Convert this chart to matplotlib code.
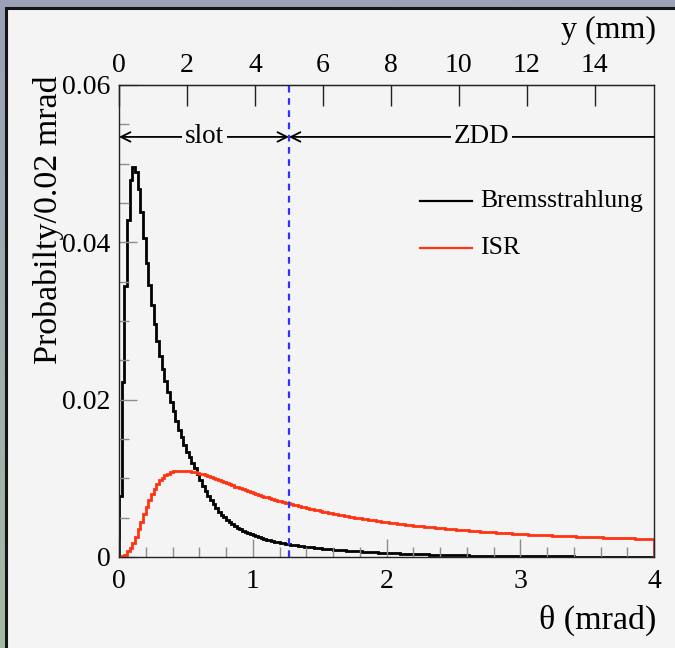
import numpy as np
import matplotlib.pyplot as plt
from matplotlib.patches import Rectangle
from matplotlib.lines import Line2D

plt.rcParams['font.family'] = ['Liberation Serif', 'DejaVu Serif']

# histogram binning: 200 bins of 0.02 mrad from 0 to 4 mrad
theta_edges = np.linspace(0.0, 4.0, 201)

brems = [
    0.0077, 0.0223, 0.0344, 0.0428, 0.0479, 0.0496, 0.0490, 0.0468, 0.0438, 0.0405,
    0.0374, 0.0346, 0.0320, 0.0296, 0.0275, 0.0256, 0.0239, 0.0224, 0.0210, 0.0197,
    0.0185, 0.0173, 0.0162, 0.0152, 0.0142, 0.0134, 0.0127, 0.0120, 0.0113, 0.0106,
    0.00980, 0.00905, 0.00840, 0.00780, 0.00723, 0.00670, 0.00620, 0.00578, 0.00540, 0.00505,
    0.00472, 0.00443, 0.00416, 0.00392, 0.00370, 0.00352, 0.00335, 0.00319, 0.00304, 0.00290,
    0.00277, 0.00265, 0.00253, 0.00242, 0.00232, 0.00222, 0.00213, 0.00204, 0.00196, 0.00189,
    0.00182, 0.00175, 0.00169, 0.00163, 0.00157, 0.00152, 0.00147, 0.00142, 0.00137, 0.00133,
    0.00129, 0.00125, 0.00121, 0.00117, 0.00114, 0.00110, 0.00107, 0.00104, 0.00101, 0.00098,
    0.00095, 0.00092, 0.00089, 0.00086, 0.00083, 0.00080, 0.00078, 0.00076, 0.00074, 0.00072,
    0.00070, 0.00068, 0.00066, 0.00064, 0.00062, 0.00060, 0.00058, 0.00056, 0.00055, 0.00053,
    0.00051, 0.00050, 0.00048, 0.00047, 0.00045, 0.00044, 0.00043, 0.00041, 0.00040, 0.00039,
    0.00037, 0.00036, 0.00035, 0.00034, 0.00033, 0.00032, 0.00031, 0.00030, 0.00029, 0.00028,
    0.00027, 0.00026, 0.00025, 0.00025, 0.00024, 0.00023, 0.00022, 0.00022, 0.00021, 0.00020,
    0.00020, 0.00019, 0.00018, 0.00018, 0.00017, 0.00017, 0.00016, 0.00016, 0.00015, 0.00015,
    0.00014, 0.00014, 0.00013, 0.00013, 0.00013, 0.00012, 0.00012, 0.00012, 0.00011, 0.00011,
    0.00011, 0.00010, 0.00010, 0.00010, 0.00010, 0.00009, 0.00009, 0.00009, 0.00009, 0.00008,
    0.00008, 0.00008, 0.00008, 0.00008, 0.00007, 0.00007, 0.00007, 0.00007, 0.00007, 0.00007,
    0.00006, 0.00006, 0.00006, 0.00006, 0.00006, 0.00006, 0.00006, 0.00006, 0.00006, 0.00006,
    0.00005, 0.00005, 0.00005, 0.00005, 0.00005, 0.00005, 0.00005, 0.00005, 0.00005, 0.00005,
    0.00004, 0.00004, 0.00004, 0.00004, 0.00004, 0.00004, 0.00004, 0.00004, 0.00004, 0.00004,
]

isr = [
    0.00000, 0.00010, 0.00030, 0.00070, 0.00120, 0.00180, 0.00260, 0.00350, 0.00450, 0.00550,
    0.00640, 0.00720, 0.00800, 0.00870, 0.00930, 0.00975, 0.01010, 0.01038, 0.01058, 0.01075,
    0.01088, 0.01095, 0.01098, 0.01099, 0.01098, 0.01095, 0.01090, 0.01083, 0.01075, 0.01068,
    0.01060, 0.01049, 0.01037, 0.01025, 0.01013, 0.01000, 0.00987, 0.00974, 0.00961, 0.00948,
    0.00935, 0.00922, 0.00909, 0.00896, 0.00884, 0.00872, 0.00860, 0.00848, 0.00836, 0.00824,
    0.00813, 0.00802, 0.00791, 0.00780, 0.00769, 0.00758, 0.00748, 0.00738, 0.00728, 0.00718,
    0.00708, 0.00699, 0.00690, 0.00681, 0.00672, 0.00664, 0.00656, 0.00648, 0.00640, 0.00632,
    0.00624, 0.00616, 0.00608, 0.00600, 0.00592, 0.00585, 0.00578, 0.00571, 0.00564, 0.00557,
    0.00550, 0.00543, 0.00537, 0.00531, 0.00525, 0.00519, 0.00513, 0.00507, 0.00501, 0.00495,
    0.00490, 0.00485, 0.00480, 0.00475, 0.00470, 0.00465, 0.00460, 0.00455, 0.00450, 0.00445,
    0.00440, 0.00436, 0.00432, 0.00428, 0.00424, 0.00420, 0.00416, 0.00412, 0.00408, 0.00404,
    0.00400, 0.00396, 0.00392, 0.00388, 0.00385, 0.00382, 0.00379, 0.00376, 0.00373, 0.00370,
    0.00367, 0.00364, 0.00361, 0.00358, 0.00355, 0.00352, 0.00349, 0.00346, 0.00343, 0.00340,
    0.00337, 0.00334, 0.00331, 0.00328, 0.00326, 0.00323, 0.00321, 0.00318, 0.00316, 0.00314,
    0.00312, 0.00310, 0.00308, 0.00306, 0.00304, 0.00302, 0.00300, 0.00298, 0.00296, 0.00294,
    0.00292, 0.00290, 0.00288, 0.00286, 0.00285, 0.00283, 0.00281, 0.00280, 0.00278, 0.00277,
    0.00275, 0.00274, 0.00272, 0.00271, 0.00269, 0.00268, 0.00266, 0.00265, 0.00264, 0.00262,
    0.00261, 0.00260, 0.00258, 0.00257, 0.00256, 0.00255, 0.00253, 0.00252, 0.00251, 0.00250,
    0.00249, 0.00247, 0.00246, 0.00245, 0.00244, 0.00243, 0.00242, 0.00241, 0.00240, 0.00239,
    0.00238, 0.00237, 0.00236, 0.00235, 0.00234, 0.00233, 0.00232, 0.00231, 0.00230, 0.00229,
]

mm_per_mrad = 3.935      # top axis conversion theta -> y
slot_edge_mm = 5.0       # end of the slot
labels = ["Bremsstrahlung", "ISR"]
colors = ["black", "#ff3311"]

canvas_col = "#f4f4f4"

fig = plt.figure(figsize=(6.75, 6.48), dpi=100)

# ROOT-like window frame with gradient border
bg = fig.add_axes([0, 0, 1, 1], zorder=-10)
bg.axis('off')
grad = np.linspace(0, 1, 256)[:, None]
c_top = np.array([0x9b, 0xa1, 0xb8]) / 255
c_bot = np.array([0xa4, 0xbb, 0xa4]) / 255
img = c_top[None, None, :] * (1 - grad[..., None]) + c_bot[None, None, :] * grad[..., None]
bg.imshow(img, extent=[0, 1, 0, 1], aspect='auto', origin='upper')
bg.add_patch(Rectangle((6 / 675, -0.02), 1.05, 1 - 8 / 648 + 0.02,
                       facecolor=canvas_col, edgecolor='#151515', lw=2.2))
bg.set_xlim(0, 1)
bg.set_ylim(0, 1)

ax = fig.add_axes([119 / 675, 1 - 557 / 648, 535 / 675, 472 / 648])
ax.set_facecolor(canvas_col)

ax.stairs(brems, theta_edges, color=colors[0], lw=2.0, baseline=0)
ax.stairs(isr, theta_edges, color=colors[1], lw=2.0, baseline=0)

theta_slot = slot_edge_mm / mm_per_mrad
ax.axvline(theta_slot, color='#3030ff', lw=1.6, ls=(0, (3, 2.5)))

ax.set_xlim(0, 4)
ax.set_ylim(0, 0.06)
ax.set_xticks([0, 1, 2, 3, 4])
ax.set_xticks(np.arange(0, 4.01, 0.2), minor=True)
ax.set_yticks([0, 0.02, 0.04, 0.06])
ax.set_yticks(np.arange(0, 0.0601, 0.005), minor=True)
ax.set_yticklabels(["0", "0.02", "0.04", "0.06"])
ax.tick_params(axis='both', which='both', direction='in', color='#8c8c8c',
               labelsize=20, top=False, right=False)
ax.tick_params(axis='both', which='major', length=13, width=1)
ax.tick_params(axis='both', which='minor', length=7, width=1)
ax.tick_params(axis='x', which='major', pad=9)
ax.tick_params(axis='y', which='major', pad=6)
for s in ax.spines.values():
    s.set_color('#222222')
    s.set_linewidth(1.0)

# top axis in mm
top = ax.secondary_xaxis('top', functions=(lambda t: t * mm_per_mrad,
                                           lambda y: y / mm_per_mrad))
top.set_xticks(np.arange(0, 15, 2))
top.tick_params(direction='in', length=15, width=1, color='#222222',
                labelsize=20, pad=5)

# slot / ZDD arrows
y_arr = 0.0534
ap = dict(arrowstyle='<->', color='black', lw=1.3, shrinkA=0, shrinkB=0,
          mutation_scale=17)
ax.annotate('', xy=(0, y_arr), xytext=(theta_slot, y_arr), arrowprops=ap)
ax.annotate('', xy=(theta_slot, y_arr), xytext=(4, y_arr),
            arrowprops=dict(ap, arrowstyle='->'))
ax.text(0.64, y_arr, "slot", fontsize=19.5, ha='center', va='center',
        bbox=dict(facecolor=canvas_col, edgecolor='none', pad=2))
ax.text(2.71, y_arr, "ZDD", fontsize=19.5, ha='center', va='center',
        bbox=dict(facecolor=canvas_col, edgecolor='none', pad=2))

# legend
for i, (lab, col) in enumerate(zip(labels, colors)):
    yy = 0.754 - i * 0.0995
    ax.add_line(Line2D([0.5626, 0.6598], [yy, yy], color=col, lw=1.6,
                       transform=ax.transAxes))
    ax.text(0.675, yy, lab, fontsize=18.5, ha='left', va='center',
            transform=ax.transAxes)

# axis titles
fig.text(656 / 675, 1 - 30 / 648, "y (mm)", fontsize=23, ha='right', va='center')
fig.text(656 / 675, 1 - 620 / 648, "\u03b8 (mrad)", fontsize=24.5, ha='right', va='center')
fig.text(49 / 675, 1 - 75 / 648, "Probabilty/0.02 mrad", fontsize=24.5,
         rotation=90, ha='center', va='top')

fig.savefig("out.png", dpi=100, facecolor=fig.get_facecolor())
